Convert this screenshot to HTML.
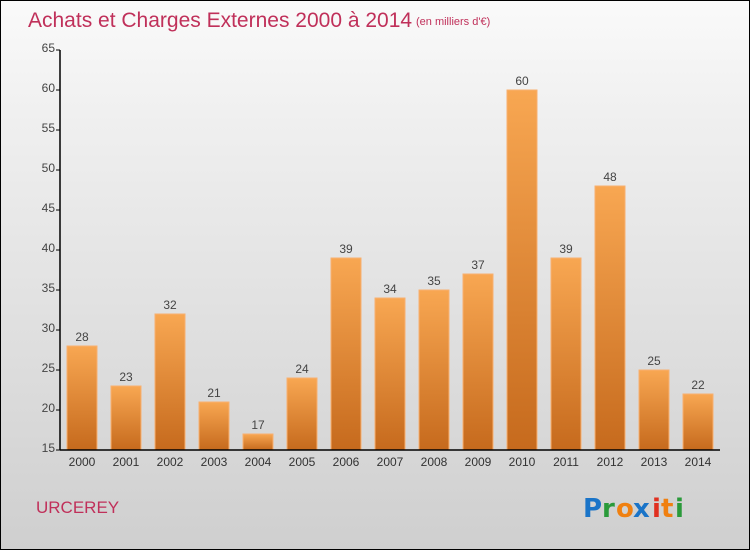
<!DOCTYPE html>
<html><head><meta charset="utf-8"><style>
body{margin:0}
#c{width:750px;height:550px;position:relative;box-sizing:border-box;border:1px solid #000;background:linear-gradient(#fafafa,#f0f0f0 20%,#cfcfcf);font-family:"Liberation Sans",sans-serif;overflow:hidden}
</style></head><body>
<div id="c">
<svg width="750" height="550" style="position:absolute;left:-1px;top:-1px" id="s">
<defs><linearGradient id="g" x1="0" y1="0" x2="0" y2="1"><stop offset="0" stop-color="#f8a752"/><stop offset="1" stop-color="#c66a1d"/></linearGradient></defs>
<text x="28" y="27" font-size="21" fill="#c0305a">Achats et Charges Externes 2000 à 2014</text>
<text x="416" y="25" font-size="11" fill="#c0305a">(en milliers d'€)</text>
<text x="36" y="513" font-size="17" fill="#c0305a">URCEREY</text>
<g font-size="26" font-weight="bold" font-family="'DejaVu Sans',sans-serif">
<text x="583" y="517" fill="#1a74c8">P</text><text x="602" y="517" fill="#2a9a3a">r</text><text x="616" y="517" fill="#f08010">o</text><text x="633" y="517" fill="#1a74c8">x</text><text x="652" y="517" fill="#e03020">i</text><text x="661" y="517" fill="#f08010">t</text><text x="675" y="517" fill="#2a9a3a">i</text></g>
<g id="plot"></g>
</svg>
</div>
<script>
const categories=["2000","2001","2002","2003","2004","2005","2006","2007","2008","2009","2010","2011","2012","2013","2014"];
const values=[28,23,32,21,17,24,39,34,35,37,60,39,48,25,22];
const yTicks=[15,20,25,30,35,40,45,50,55,60,65];
const yMin=15,yMax=65,plotTop=50,plotBot=450,x0=60;
const y=v=>plotBot-(v-yMin)/(yMax-yMin)*(plotBot-plotTop);
const x=i=>82+i*44;
const ns="http://www.w3.org/2000/svg",p=document.getElementById('plot');
function mk(t,a,txt){const e=document.createElementNS(ns,t);for(const k in a)e.setAttribute(k,a[k]);if(txt!=null)e.textContent=txt;p.appendChild(e);return e;}
values.forEach((v,i)=>{
 const r=mk('rect',{x:x(i)-15,y:y(v),width:30,height:plotBot-y(v),fill:'url(#g)',stroke:'#f8b070','stroke-width':1});
 
 
 const t=mk('text',{x:x(i),y:y(v)-5,'text-anchor':'middle','font-size':12,fill:'#444'},v);
 
 
 const c=mk('text',{x:x(i),y:plotBot+16,'text-anchor':'middle','font-size':12,fill:'#333'},categories[i]);
 
 
});
yTicks.forEach(v=>{
 const l=mk('line',{x1:x0-4,x2:x0,y1:y(v),y2:y(v),stroke:'#000'});
 
 
 const t=mk('text',{x:x0-5,y:y(v)+2,'text-anchor':'end','font-size':12,fill:'#444'},v);
 
 
});
const ya=mk('line',{x1:x0,x2:x0,y1:plotTop,y2:plotBot,stroke:'#000','stroke-width':1.5});


const xa=mk('line',{x1:x0,x2:720,y1:plotBot,y2:plotBot,stroke:'#000','stroke-width':1.5});


</script>
</body></html>
